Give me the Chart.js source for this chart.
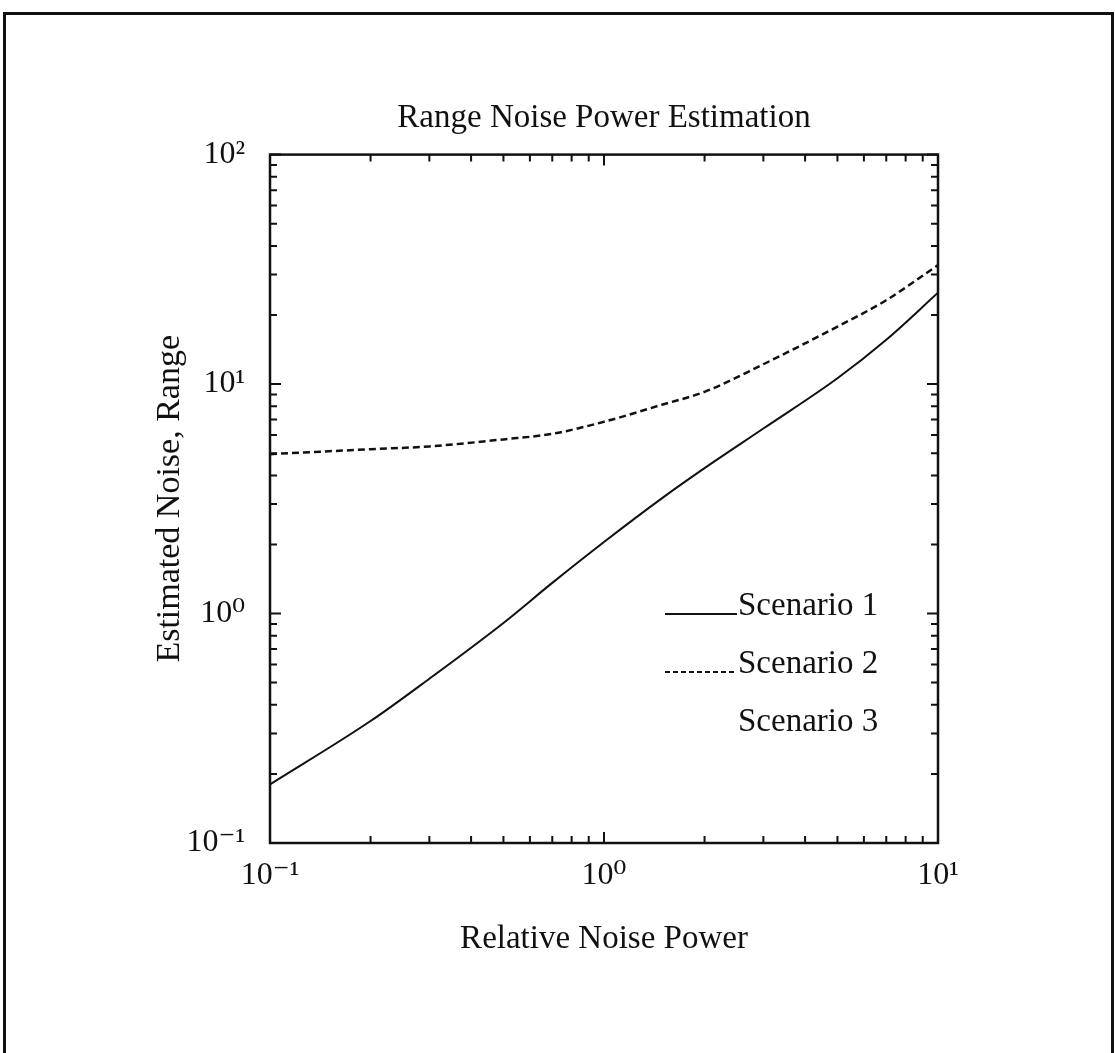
<!DOCTYPE html>
<html lang="en">
<head>
    <meta charset="UTF-8">
    <title>Range Noise Power Estimation</title>
    <style>
        * {
            margin: 0;
            padding: 0;
            box-sizing: border-box;
        }

        body {
            width: 1115px;
            height: 1053px;
            background: #fff;
            overflow: hidden;
            position: relative;
        }

        /* outer frame of the scanned page, runs off the bottom */
        .frame {
            position: absolute;
            left: 3px;
            top: 12px;
            width: 1111px;
            height: 1100px;
            border: 3px solid #111;
        }

        canvas {
            position: absolute;
            left: 0;
            top: 0;
        }
    </style>
    <script src="https://cdn.jsdelivr.net/npm/chart.js"></script>
</head>
<body>
    <div class="frame"></div>
    <canvas id="noiseChart" width="1115" height="1053"></canvas>

    <script>
        // values
        const noisePower = [0.1, 0.2, 0.3, 0.5, 0.7, 1, 1.5, 2, 3, 5, 7, 10];
        const scenario1 = [0.18, 0.34, 0.52, 0.91, 1.36, 2.05, 3.2, 4.3, 6.4, 10.6, 15.6, 25];
        const scenario2 = [4.95, 5.2, 5.35, 5.74, 6.07, 6.85, 8.15, 9.25, 12.2, 17.8, 23.2, 33];
        const scenario3 = [];   // listed in the key, no curve drawn
        const seriesNames = ['Scenario 1', 'Scenario 2', 'Scenario 3'];

        const xDecades = [0.1, 1, 10];
        const xTickLabels = ['10\u207B\u00B9', '10\u2070', '10\u00B9'];
        const yDecades = [0.1, 1, 10, 100];
        const yTickLabels = ['10\u207B\u00B9', '10\u2070', '10\u00B9', '10\u00B2'];

        const serif = "'Liberation Serif', 'Times New Roman', 'DejaVu Serif', serif";

        function points(ys) {
            return ys.map((y, i) => ({ x: noisePower[i], y: y }));
        }

        // decades plus the 2..9 minor marks in between
        function logTicks(decades) {
            const out = [];
            decades.forEach((d, i) => {
                out.push({ value: d, major: true });
                if (i < decades.length - 1) {
                    for (let m = 2; m <= 9; m++) out.push({ value: d * m, major: false });
                }
            });
            return out;
        }

        function decadeLabel(decades, labels) {
            return function (value) {
                const i = decades.findIndex(d => Math.abs(d - value) < d * 1e-6);
                return i >= 0 ? labels[i] : '';
            };
        }

        // box round the plot with inward ticks on all four sides
        const plotBox = {
            id: 'plotBox',
            afterDatasetsDraw(chart) {
                const { ctx, chartArea: a, scales } = chart;
                ctx.save();
                ctx.strokeStyle = '#111';
                ctx.lineWidth = 2.5;
                ctx.strokeRect(a.left, a.top, a.right - a.left, a.bottom - a.top);
                ctx.lineWidth = 2;
                ctx.beginPath();
                scales.x.ticks.forEach(t => {
                    const px = scales.x.getPixelForValue(t.value);
                    const len = t.major ? 11 : 7;
                    ctx.moveTo(px, a.bottom);
                    ctx.lineTo(px, a.bottom - len);
                    ctx.moveTo(px, a.top);
                    ctx.lineTo(px, a.top + len);
                });
                scales.y.ticks.forEach(t => {
                    const py = scales.y.getPixelForValue(t.value);
                    const len = t.major ? 11 : 7;
                    ctx.moveTo(a.left, py);
                    ctx.lineTo(a.left + len, py);
                    ctx.moveTo(a.right, py);
                    ctx.lineTo(a.right - len, py);
                });
                ctx.stroke();
                ctx.restore();
            }
        };

        // key sits inside the plot, line sample then name
        const plotKey = {
            id: 'plotKey',
            afterDraw(chart, args, opts) {
                const ctx = chart.ctx;
                ctx.save();
                ctx.font = opts.font;
                ctx.fillStyle = '#111';
                ctx.textBaseline = 'alphabetic';
                chart.data.datasets.forEach((ds, i) => {
                    const y = opts.top + i * opts.step;
                    if (ds.data.length) {
                        ctx.beginPath();
                        ctx.strokeStyle = '#111';
                        ctx.lineWidth = 2;
                        ctx.setLineDash(opts.dashes[i] || []);
                        ctx.moveTo(opts.lineFrom, y - 1);
                        ctx.lineTo(opts.lineTo, y - 1);
                        ctx.stroke();
                    }
                    ctx.fillText(ds.label, opts.textX, y);
                });
                ctx.restore();
            }
        };

        const ctx = document.getElementById('noiseChart').getContext('2d');
        const noiseChart = new Chart(ctx, {
            type: 'line',
            data: {
                datasets: [
                    {
                        label: seriesNames[0],
                        data: points(scenario1),
                        borderColor: '#111',
                        borderWidth: 2,
                        pointRadius: 0,
                        cubicInterpolationMode: 'monotone'
                    },
                    {
                        label: seriesNames[1],
                        data: points(scenario2),
                        borderColor: '#111',
                        borderWidth: 2.5,
                        borderDash: [7, 4],
                        pointRadius: 0,
                        cubicInterpolationMode: 'monotone'
                    },
                    {
                        label: seriesNames[2],
                        data: points(scenario3),
                        borderColor: '#111',
                        borderWidth: 2,
                        pointRadius: 0
                    }
                ]
            },
            options: {
                responsive: false,
                animation: false,
                layout: {
                    padding: { left: 0, right: 177, top: 0, bottom: 0 }
                },
                plugins: {
                    legend: { display: false },
                    tooltip: { enabled: false },
                    title: {
                        display: true,
                        fullSize: false,
                        text: 'Range Noise Power Estimation',
                        color: '#111',
                        font: { family: serif, size: 33, weight: 'normal' },
                        padding: { top: 99, bottom: 16 }
                    },
                    plotKey: {
                        font: '33px ' + serif,
                        top: 615,
                        step: 58,
                        textX: 738,
                        lineFrom: 665,
                        lineTo: 737,
                        dashes: [[], [5, 3], []]
                    }
                },
                scales: {
                    x: {
                        type: 'logarithmic',
                        min: 0.1,
                        max: 10,
                        afterFit(scale) { scale.height = 210; },
                        afterBuildTicks(scale) { scale.ticks = logTicks(xDecades); },
                        grid: { display: false },
                        border: { display: false },
                        ticks: {
                            autoSkip: false,
                            maxRotation: 0,
                            padding: 5,
                            color: '#111',
                            font: { family: serif, size: 32 },
                            callback: decadeLabel(xDecades, xTickLabels)
                        },
                        title: {
                            display: true,
                            text: 'Relative Noise Power',
                            color: '#111',
                            font: { family: serif, size: 33 },
                            padding: { top: 0, bottom: 94 }
                        }
                    },
                    y: {
                        type: 'logarithmic',
                        min: 0.1,
                        max: 100,
                        afterFit(scale) { scale.width = 270; },
                        afterBuildTicks(scale) { scale.ticks = logTicks(yDecades); },
                        grid: { display: false },
                        border: { display: false },
                        ticks: {
                            autoSkip: false,
                            padding: 17,
                            color: '#111',
                            font: { family: serif, size: 32 },
                            callback: decadeLabel(yDecades, yTickLabels)
                        },
                        title: {
                            display: true,
                            text: 'Estimated Noise, Range',
                            color: '#111',
                            font: { family: serif, size: 34 },
                            padding: { top: 150, bottom: 0 }
                        }
                    }
                }
            },
            plugins: [plotBox, plotKey]
        });
    </script>
</body>
</html>
